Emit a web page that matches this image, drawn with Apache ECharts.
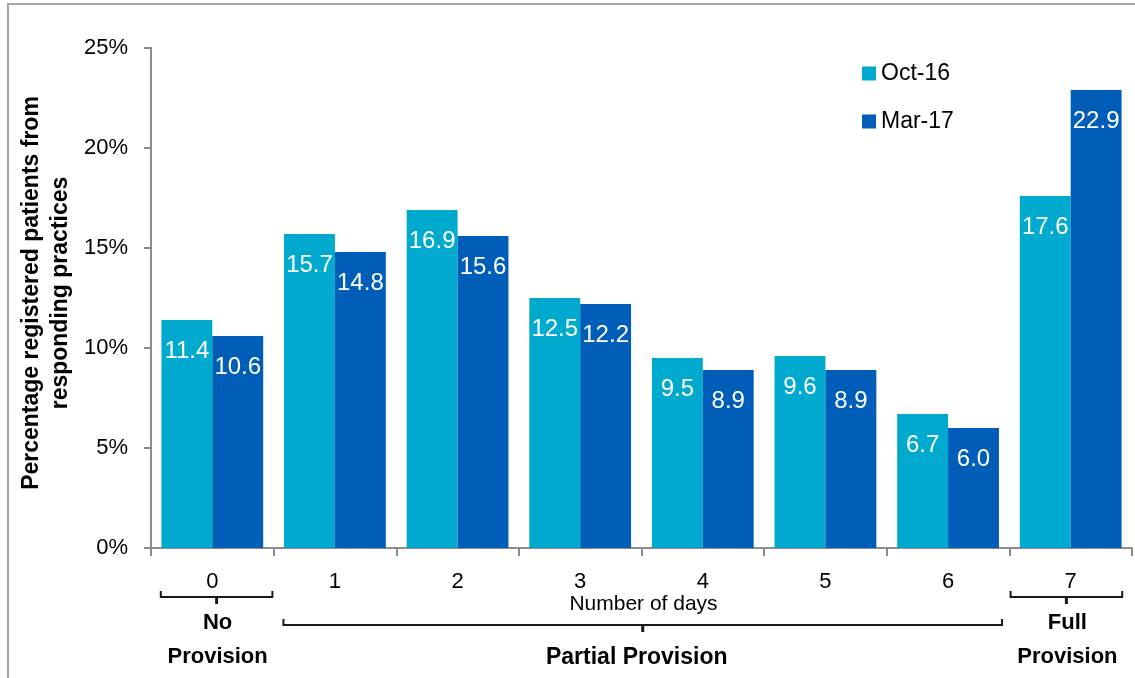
<!DOCTYPE html>
<html>
<head>
<meta charset="utf-8">
<script src="https://cdn.jsdelivr.net/npm/echarts@6/dist/echarts.min.js"></script>
<style>
html,body{margin:0;padding:0;background:#fff;}
#chart{width:1135px;height:678px;}
</style>
</head>
<body>
<div id="chart"></div>
<script>
var categories = ['0', '1', '2', '3', '4', '5', '6', '7'];
var seriesNames = ['Oct-16', 'Mar-17'];
var oct16 = [11.4, 15.7, 16.9, 12.5, 9.5, 9.6, 6.7, 17.6];
var mar17 = [10.6, 14.8, 15.6, 12.2, 8.9, 8.9, 6.0, 22.9];
var yTicks = [0, 5, 10, 15, 20, 25];
var groups = [
  {name: ['No', 'Provision'], from: 0, to: 0, level: 0},
  {name: ['Partial Provision'], from: 1, to: 6, level: 1},
  {name: ['Full', 'Provision'], from: 7, to: 7, level: 0}
];
var yAxisTitle = ['Percentage registered patients from', 'responding practices'];
var xAxisTitle = 'Number of days';

var FONT = '"Liberation Sans", Arial, sans-serif';
var chart = echarts.init(document.getElementById('chart'));

var labelOpt = {
  show: true, position: 'insideTop', distance: 19,
  color: '#fff', fontSize: 24, fontFamily: FONT,
  formatter: function (p) { return p.value.toFixed(1); }
};

chart.setOption({
  animation: false,
  backgroundColor: '#fff',
  grid: {left: 151, right: 3, top: 48, bottom: 130, containLabel: false},
  legend: {
    left: 857, top: 57, orient: 'vertical', icon: 'rect',
    itemWidth: 14, itemHeight: 14, itemGap: 25, itemTextGap: 8,
    textStyle: {fontSize: 23, fontFamily: FONT, color: '#000'},
    data: seriesNames
  },
  xAxis: {
    type: 'category', data: categories,
    axisLine: {lineStyle: {color: '#8c8c8c', width: 2}},
    axisTick: {show: true, length: 8, lineStyle: {color: '#8c8c8c', width: 2}},
    axisLabel: {fontSize: 22, fontFamily: FONT, color: '#000', margin: 23},
    splitLine: {show: false}
  },
  yAxis: {
    type: 'value', min: 0, max: 25, interval: 5,
    axisLine: {show: true, lineStyle: {color: '#8c8c8c', width: 2}},
    axisTick: {show: true, length: 7, lineStyle: {color: '#8c8c8c', width: 2}},
    axisLabel: {fontSize: 22, fontFamily: FONT, color: '#000', margin: 23,
      formatter: function (v) { return yTicks.indexOf(v) >= 0 ? v + '%' : ''; }},
    splitLine: {show: false}
  },
  series: [
    {name: seriesNames[0], type: 'bar', data: oct16, barGap: '0%', barCategoryGap: '17%',
      itemStyle: {color: '#00A9CE'}, label: labelOpt},
    {name: seriesNames[1], type: 'bar', data: mar17, barGap: '0%', barCategoryGap: '17%',
      itemStyle: {color: '#005EB8'}, label: labelOpt}
  ]
});

function buildGraphics() {
  var c0 = chart.convertToPixel({xAxisIndex: 0}, 0);
  var c1 = chart.convertToPixel({xAxisIndex: 0}, 1);
  var bw = c1 - c0;
  var y0 = chart.convertToPixel({yAxisIndex: 0}, 0);
  var y25 = chart.convertToPixel({yAxisIndex: 0}, 25);
  var last = categories.length - 1;
  var els = [];
  // frame
  els.push({type: 'rect', shape: {x: 8, y: 4, width: 1300, height: 900},
    style: {fill: 'none', stroke: '#a6a6a6', lineWidth: 2}, z: 1});
  // y axis title
  els.push({type: 'text', x: 46, y: (y0 + y25) / 2 - 5, rotation: Math.PI / 2,
    style: {text: yAxisTitle.join('\n'), x: 0, y: 0, align: 'center', verticalAlign: 'middle',
      font: 'bold 23px ' + FONT, fill: '#000', lineHeight: 29}});
  // x axis title
  els.push({type: 'text', x: c0 + bw * 3.5 + 2, y: 604,
    style: {text: xAxisTitle, align: 'center', verticalAlign: 'middle',
      font: '21px ' + FONT, fill: '#000'}});
  groups.forEach(function (g) {
    var left, right, by;
    if (g.level === 0) {
      if (g.from === 0) {
        left = c0 + bw * g.from - bw * 0.42;
        right = c0 + bw * g.to + bw * 0.49;
      } else {
        left = c0 + bw * g.from - bw * 0.49;
        right = c0 + bw * g.to + bw * 0.42;
      }
      by = 597;
    } else {
      left = c0 + bw * g.from - bw * 0.42;
      right = c0 + bw * g.to + bw * 0.44;
      by = 625;
    }
    var mid = (left + right) / 2;
    els.push({type: 'polyline', shape: {points: [[left, by - 6], [left, by], [right, by], [right, by - 6]]},
      style: {stroke: '#1a1a1a', lineWidth: 2, fill: 'none'}});
    els.push({type: 'line', shape: {x1: mid, y1: by, x2: mid, y2: by + 7},
      style: {stroke: '#1a1a1a', lineWidth: 3}});
    if (g.name.length === 2) {
      els.push({type: 'text', x: mid + 1, y: 623, style: {text: g.name[0], align: 'center', verticalAlign: 'middle',
        font: 'bold 22px ' + FONT, fill: '#000'}});
      els.push({type: 'text', x: mid + 1, y: 657, style: {text: g.name[1], align: 'center', verticalAlign: 'middle',
        font: 'bold 22px ' + FONT, fill: '#000'}});
    } else {
      els.push({type: 'text', x: mid - 6, y: 658, style: {text: g.name[0], align: 'center', verticalAlign: 'middle',
        font: 'bold 23px ' + FONT, fill: '#000'}});
    }
  });
  chart.setOption({graphic: els});
}
buildGraphics();
</script>
</body>
</html>
